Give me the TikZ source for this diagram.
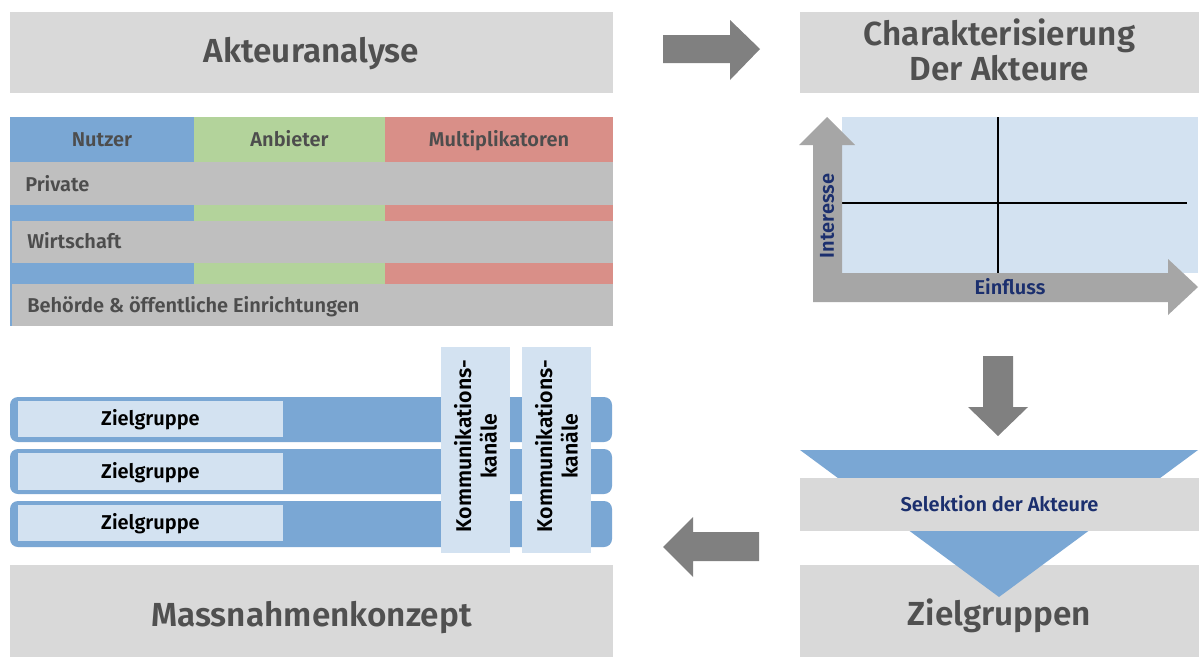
\documentclass[tikz,border=0pt]{standalone}
\usepackage{fontspec}
\setmainfont{Fira Sans}[BoldFont={Fira Sans SemiBold}]
\definecolor{boxgray}{HTML}{D9D9D9}
\definecolor{rowgray}{HTML}{BFBFBF}
\definecolor{arrgray}{HTML}{808080}
\definecolor{axgray}{HTML}{A6A6A6}
\definecolor{cblue}{HTML}{7AA7D4}
\definecolor{cgreen}{HTML}{B3D39B}
\definecolor{cred}{HTML}{D98F88}
\definecolor{lblue}{HTML}{D3E2F1}
\definecolor{titletxt}{HTML}{505050}
\definecolor{tabtxt}{HTML}{4D4D4D}
\definecolor{navy}{HTML}{1B2F6E}
\tikzset{
  bigtitle/.style={font=\fontsize{25}{26}\selectfont\bfseries, text=titletxt, anchor=base, inner sep=0pt},
  tabhead/.style={font=\fontsize{15}{17}\selectfont\bfseries, text=tabtxt, anchor=base, inner sep=0pt},
  rowlabel/.style={font=\fontsize{15}{17}\selectfont\bfseries, text=tabtxt, anchor=base west, inner sep=0pt},
  navylabel/.style={font=\fontsize{15}{17}\selectfont\bfseries, text=navy, inner sep=0pt},
  zgbox/.style={fill=lblue, draw=none},
  zglabel/.style={font=\fontsize{15}{17}\selectfont\bfseries, text=black, anchor=base, inner sep=0pt},
  kklabel/.style={font=\fontsize{16}{19}\selectfont\bfseries, text=black, align=center, rotate=90},
}
\begin{document}
\begin{tikzpicture}[x=0.75pt,y=-0.75pt]
\useasboundingbox (0,0) rectangle (1199,657);
\fill[white] (0,0) rectangle (1199,657);

% --- top title boxes
\fill[boxgray] (10,12) rectangle (613,93);
\node[bigtitle] (akt) at (311.5,62) {Akteuranalyse};
\fill[boxgray] (800,12) rectangle (1199,93);
\node[bigtitle] (char1) at (999.5,45) {Charakterisierung};
\node[bigtitle] (char2) at (999.5,80) {Der Akteure};

% right arrow
\fill[arrgray] (663,35) -- (730,35) -- (730,20) -- (760,49) -- (730,80) -- (730,63) -- (663,63) -- cycle;

% --- table
\fill[cblue] (10,117) rectangle (194,326);
\fill[cgreen] (194,117) rectangle (385,326);
\fill[cred] (385,117) rectangle (613,326);
\node[tabhead] (nutzer) at (102,146) {Nutzer};
\node[tabhead] (anbieter) at (289.5,146) {Anbieter};
\node[tabhead] (multi) at (499,146) {Multiplikatoren};
\fill[rowgray] (10,162) rectangle (613,205);
\fill[rowgray] (12,221) rectangle (613,263);
\fill[rowgray] (12,284) rectangle (613,326);
\node[rowlabel] (private) at (25,191) {Private};
\node[rowlabel] (wirt) at (27,248) {Wirtschaft};
\node[rowlabel] (beh) at (27,312) {Behörde \& öffentliche Einrichtungen};

% --- chart
\fill[lblue] (842,117) rectangle (1198,273);
\draw[black, line width=0.9pt] (998,117) -- (998,273);
\draw[black, line width=0.9pt] (842,203) -- (1187,203);
\fill[axgray] (813,302) -- (813,145) -- (799,145) -- (827,117) -- (855,145) -- (842,145) -- (842,273)
  -- (1168,273) -- (1168,259) -- (1198,287) -- (1168,315) -- (1168,302) -- cycle;
\node[navylabel, rotate=90] (interesse) at (827,216) {Interesse};
\node[navylabel, anchor=base] (einfluss) at (1010,294) {Einfluss};

% down arrow
\fill[arrgray] (983,356) -- (1013,356) -- (1013,407) -- (1028,407) -- (998,436) -- (968,407) -- (983,407) -- cycle;

% --- funnel
\fill[boxgray] (800,565) rectangle (1199,657);
\fill[cblue] (800,450) -- (1198,450) -- (999,597) -- cycle;
\fill[boxgray] (800,478) rectangle (1199,531);
\node[navylabel, anchor=base] (sel) at (999.5,511) {Selektion der Akteure};
\node[bigtitle] (zielgr) at (999.5,625) {Zielgruppen};

% left arrow
\fill[arrgray] (759,532) -- (693,532) -- (693,517) -- (663,547) -- (693,577) -- (693,561) -- (759,561) -- cycle;

% --- Massnahmenkonzept
\fill[boxgray] (10,565) rectangle (613,657);
\node[bigtitle] (mass) at (311.5,626) {Massnahmenkonzept};

% --- bars
\foreach \t/\b in {397/442, 449/494, 501/547} {
  \fill[cblue, rounded corners=6] (10,\t) rectangle (612,\b);
}
\fill[zgbox] (18,401) rectangle (283,437);
\fill[zgbox] (18,453) rectangle (283,490);
\fill[zgbox] (18,505) rectangle (283,541);
\node[zglabel] (zg1) at (150.5,425) {Zielgruppe};
\node[zglabel] (zg2) at (150.5,478) {Zielgruppe};
\node[zglabel] (zg3) at (150.5,529) {Zielgruppe};
\fill[lblue] (441,347) rectangle (510,553);
\fill[lblue] (522,347) rectangle (591,553);
\node[kklabel] (kk1) at (475.5,446) {Kommunikations-\\kanäle};
\node[kklabel] (kk2) at (556.5,446) {Kommunikations-\\kanäle};
\end{tikzpicture}
\end{document}
